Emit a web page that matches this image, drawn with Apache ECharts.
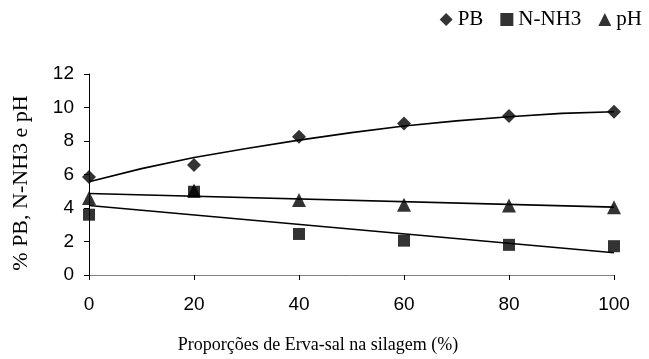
<!DOCTYPE html>
<html><head><meta charset="utf-8">
<script src="https://cdn.jsdelivr.net/npm/echarts@6/dist/echarts.min.js"></script>
<style>html,body{margin:0;padding:0;background:#fff}#c{width:649px;height:359px}</style>
</head><body><div id="c"></div>
<script>
const xCats = [0, 20, 40, 60, 80, 100];
const pbValues = [5.85, 6.57, 8.25, 9.05, 9.5, 9.75];
const nnh3Values = [3.6, 4.97, 2.45, 2.05, 1.8, 1.72];
const phValues = [4.6, 5.05, 4.48, 4.2, 4.15, 4.05];
// trend curves
const pbTrendX = [0, 10, 20, 30, 40, 50, 60, 70, 80, 90, 100];
const pbTrendY = [5.57, 6.35, 7.02, 7.55, 8.05, 8.5, 8.9, 9.2, 9.45, 9.65, 9.75];
const nnh3TrendX = [0, 100];
const nnh3TrendY = [4.15, 1.33];
const phTrendX = [0, 100];
const phTrendY = [4.87, 4.05];
const yTicks = [0, 2, 4, 6, 8, 10, 12];

const zip = (a, b) => a.map((v, i) => [v, b[i]]);
const chart = echarts.init(document.getElementById('c'));
const trendStyle = {color: '#000', width: 1.6};
const serif = 'Liberation Serif';
chart.setOption({
  animation: false,
  backgroundColor: '#fff',
  grid: {left: 89, right: 35, top: 74, bottom: 84},
  legend: {
    top: 4, right: 2, itemGap: 17, itemWidth: 13, itemHeight: 13,
    textStyle: {fontFamily: serif, fontSize: 21, color: '#000'},
    data: [
      {name: 'PB', icon: 'diamond'},
      {name: 'N-NH3', icon: 'rect'},
      {name: 'pH', icon: 'triangle'}
    ]
  },
  title: {
    text: 'Proporções de Erva-sal na silagem (%)',
    left: 313, top: 331, textAlign: 'center',
    textStyle: {fontFamily: serif, fontSize: 18, fontWeight: 'normal', color: '#000'}
  },
  graphic: [{
    type: 'text', x: 21, y: 183, rotation: Math.PI / 2,
    style: {text: '% PB, N-NH3 e pH', font: '22px "Liberation Serif"', fill: '#000',
            textAlign: 'center', textVerticalAlign: 'middle'}
  }],
  xAxis: {
    type: 'value', min: 0, max: 100, interval: 20,
    axisLine: {lineStyle: {color: '#808080', width: 1}},
    axisTick: {show: true, length: 5, lineStyle: {color: '#000'}},
    axisLabel: {margin: 20, fontFamily: 'Liberation Sans', fontSize: 19, color: '#000'},
    splitLine: {show: false}
  },
  yAxis: {
    type: 'value', min: yTicks[0], max: yTicks[yTicks.length - 1], interval: 2,
    axisLine: {show: true, lineStyle: {color: '#000', width: 1}},
    axisTick: {show: true, length: 5, lineStyle: {color: '#000'}},
    axisLabel: {margin: 15, fontFamily: 'Liberation Sans', fontSize: 19, color: '#000'},
    splitLine: {show: false}
  },
  series: [
    {name: 'PBtrend', type: 'line', data: zip(pbTrendX, pbTrendY), showSymbol: false, lineStyle: trendStyle, z: 2},
    {name: 'NNH3trend', type: 'line', data: zip(nnh3TrendX, nnh3TrendY), showSymbol: false, lineStyle: trendStyle, z: 2},
    {name: 'pHtrend', type: 'line', data: zip(phTrendX, phTrendY), showSymbol: false, lineStyle: trendStyle, z: 2},
    {name: 'PB', type: 'scatter', symbol: 'diamond', symbolSize: 14, itemStyle: {color: '#000'}, data: zip(xCats, pbValues), z: 3},
    {name: 'N-NH3', type: 'scatter', symbol: 'rect', symbolSize: 12, itemStyle: {color: '#000'}, data: zip(xCats, nnh3Values), z: 3},
    {name: 'pH', type: 'scatter', symbol: 'triangle', symbolSize: 14, itemStyle: {color: '#000'}, data: zip(xCats, phValues), z: 3}
  ]
});
</script></body></html>
